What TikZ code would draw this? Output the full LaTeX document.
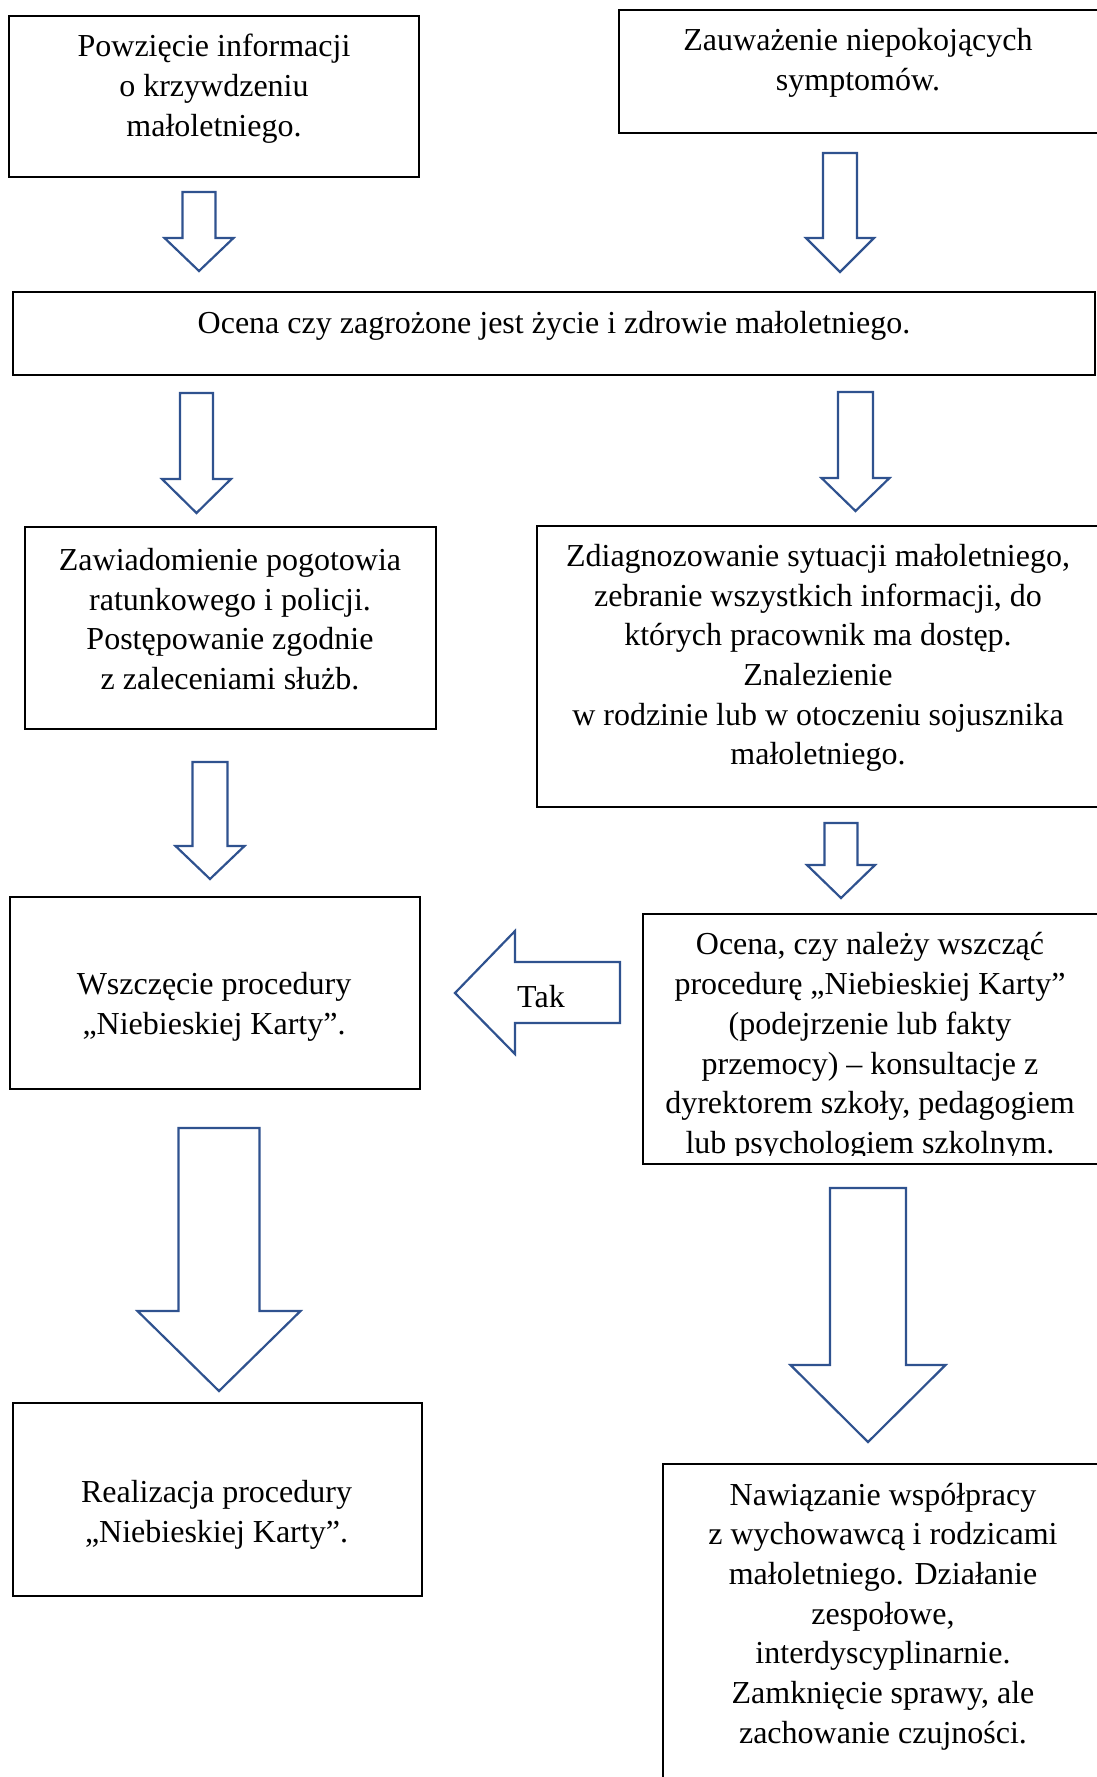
\documentclass[tikz,border=0pt]{standalone}
\usepackage{fontspec}
\setmainfont{Liberation Serif}
\definecolor{arrowblue}{RGB}{47,82,143}
\tikzset{
  box/.style={draw=black, line width=1pt, inner sep=0pt, outer sep=0pt, anchor=north west},
  txt/.style={align=center, font=\fontsize{16}{19.85}\selectfont, inner sep=0pt},
  barrow/.style={draw=arrowblue, line width=1.1pt, line join=miter}
}
% #1 name, #2 x1, #3 y1, #4 x2, #5 y2
\newcommand\boxnode[5]{%
  \node[box, minimum width={(#4-#2)*0.5pt}, minimum height={(#5-#3)*0.5pt}] (#1) at (#2,#3) {};}
% #1 name, #2 cx, #3 shaft half width, #4 top, #5 head y, #6 head half width, #7 tip
\newcommand\blkdown[7]{%
  \coordinate (#1-top) at (#2,#4);
  \coordinate (#1-tip) at (#2,#7);
  \draw[barrow] ({#2-#3},#4) -- ({#2+#3},#4) -- ({#2+#3},#5) -- ({#2+#6},#5)
     -- (#1-tip) -- ({#2-#6},#5) -- ({#2-#3},#5) -- cycle;}
\begin{document}
\begin{tikzpicture}[x=0.5pt,y=-0.5pt]
\useasboundingbox (0,0) rectangle (1097,1777);
\clip (0,0) rectangle (1097,1777);

% boxes
\boxnode{A}{9}{16}{419}{177}
\boxnode{B}{619}{10}{1115}{133}
\boxnode{C}{12.5}{292}{1095}{375}
\boxnode{D}{24.5}{527}{436}{729}
\boxnode{E}{537}{526}{1115}{807}
\boxnode{F}{10}{897}{420}{1089}
\boxnode{G}{643}{914}{1115}{1164}
\boxnode{H}{12.5}{1403}{422}{1596}
\boxnode{I}{663}{1464}{1115}{1800}

% texts
\node[txt] (At) at (214,88.5) {Powzięcie informacji\\o krzywdzeniu\\małoletniego.};
\node[txt] (Bt) at (858,63) {Zauważenie niepokojących\\symptomów.};
\node[txt] (Ct) at (554,325.5) {Ocena czy zagrożone jest życie i zdrowie małoletniego.};
\node[txt] (Dt) at (230,619) {Zawiadomienie pogotowia\\ratunkowego i policji.\\Postępowanie zgodnie\\z zaleceniami służb.};
\node[txt] (Et) at (818,658) {Zdiagnozowanie sytuacji małoletniego,\\zebranie wszystkich informacji, do\\których pracownik ma dostęp.\\Znalezienie\\w rodzinie lub w otoczeniu sojusznika\\małoletniego.};
\node[txt] (Ft) at (214,1007) {Wszczęcie procedury\\„Niebieskiej Karty”.};
\begin{scope}
  \clip (643,914) rectangle (1097,1155);
  \node[txt] (Gt) at (870,1046.5) {Ocena, czy należy wszcząć\\procedurę „Niebieskiej Karty”\\(podejrzenie lub fakty\\przemocy) – konsultacje z\\dyrektorem szkoły, pedagogiem\\lub psychologiem szkolnym.};
\end{scope}
\node[txt] (Ht) at (216.5,1514.5) {Realizacja procedury\\„Niebieskiej Karty”.};
\node[txt] (It) at (883,1616.5) {Nawiązanie współpracy\\z wychowawcą i rodzicami\\małoletniego. Działanie\\zespołowe,\\interdyscyplinarnie.\\Zamknięcie sprawy, ale\\zachowanie czujności.};

% block arrows
\blkdown{a1}{199}{16.5}{192}{238}{34.5}{271}
\blkdown{a2}{840}{17}{153}{238}{34}{272}
\blkdown{a3}{196.5}{16.5}{393}{479}{34.5}{513}
\blkdown{a4}{855.5}{17.5}{392}{478}{34}{511}
\blkdown{a5}{210}{17.5}{762}{846}{34.5}{879}
\blkdown{a6}{841}{16.5}{823}{865}{34}{898}
\blkdown{a7}{219}{40.5}{1128}{1311}{81.5}{1391}
\blkdown{a8}{868}{38}{1188}{1365}{77.5}{1442}

% "Tak" arrow pointing left
\coordinate (tak-tip) at (455,993);
\coordinate (tak-end) at (620,993);
\draw[barrow] (tak-tip) -- (515,931) -- (515,962) -- (620,962) -- (620,1023)
   -- (515,1023) -- (515,1054) -- cycle;
\node[txt] (tak) at (541,996.5) {Tak};
\end{tikzpicture}
\end{document}
